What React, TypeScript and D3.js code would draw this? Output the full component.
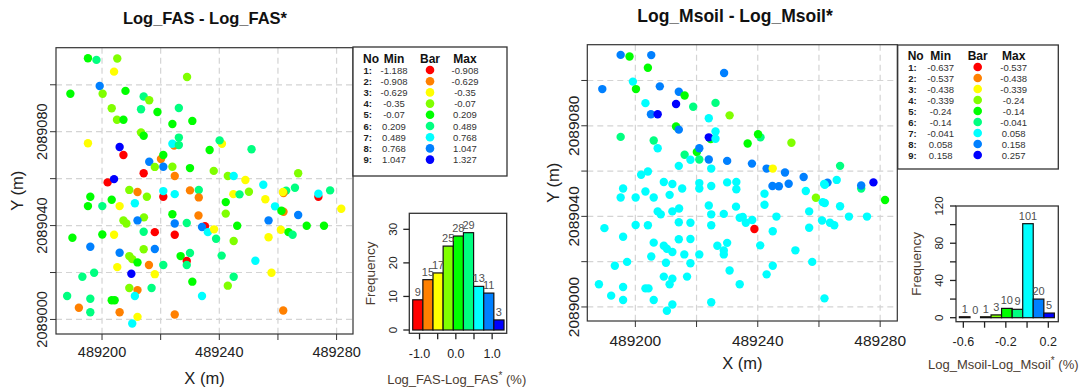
import React from "react";
import * as d3 from "d3";

const CLASS_COLORS = ["#FF0000", "#FF8000", "#FFFF00", "#80FF00", "#00FF00", "#00FF80", "#00FFFF", "#0080FF", "#0000FF"];

const pointX = [
  489195.2, 489198.1, 489205.2, 489204.1, 489229.0, 489199.2, 489200.2, 489189.2, 489208.0, 489214.2,
  489216.1, 489203.3, 489213.3, 489218.9, 489226.2, 489205.1, 489207.3, 489230.8, 489224.0, 489213.3,
  489214.2, 489195.2, 489224.6, 489224.0, 489226.2, 489226.2, 489240.9, 489240.1, 489251.0, 489206.0,
  489207.3, 489236.7, 489220.1, 489220.9, 489216.1, 489218.0, 489220.9, 489224.0, 489230.0, 489238.1,
  489214.2, 489224.8, 489201.9, 489204.1, 489242.9, 489244.9, 489248.9, 489266.9, 489255.0, 489265.8,
  489262.8, 489261.9, 489261.7, 489273.8, 489273.8, 489277.8, 489196.0, 489195.2, 489200.1, 489203.3,
  489206.0, 489209.3, 489212.1, 489215.3, 489211.2, 489220.9, 489220.9, 489224.8, 489230.0, 489233.0,
  489233.0, 489244.8, 489246.9, 489250.1, 489242.2, 489255.7, 489259.0, 489261.9, 489261.2, 489281.6,
  489242.2, 489224.0, 489232.9, 489214.3, 489212.1, 489207.3, 489208.3, 489224.8, 489228.9, 489235.1,
  489234.1, 489236.1, 489238.2, 489246.1, 489256.8, 489266.9, 489269.8, 489275.7, 489261.0, 489263.6,
  489265.0, 489189.9, 489200.1, 489204.1, 489214.2, 489218.0, 489224.8, 489238.9, 489244.9, 489256.8,
  489196.0, 489206.0, 489214.2, 489218.0, 489209.3, 489210.3, 489212.1, 489205.2, 489216.0, 489220.9,
  489226.8, 489230.0, 489228.9, 489228.9, 489240.8, 489252.3, 489210.0, 489218.0, 489193.3, 489197.3,
  489244.9, 489257.8, 489230.8, 489209.3, 489212.1, 489216.9, 489242.9, 489188.1, 489196.0, 489203.3,
  489204.3, 489211.2, 489234.1, 489192.1, 489196.0, 489206.0, 489212.1, 489210.3, 489224.8, 489261.8,
];

const pointY = [
  2089111.3, 2089110.6, 2089111.2, 2089105.6, 2089103.3, 2089099.5, 2089096.2, 2089096.2, 2089097.4, 2089095.0,
  2089093.4, 2089090.0, 2089089.6, 2089088.4, 2089090.1, 2089085.1, 2089085.1, 2089084.6, 2089083.3, 2089079.7,
  2089078.3, 2089075.1, 2089074.1, 2089074.9, 2089074.3, 2089077.5, 2089074.9, 2089076.3, 2089072.5, 2089073.5,
  2089070.1, 2089072.2, 2089068.4, 2089070.1, 2089067.2, 2089065.0, 2089065.1, 2089065.1, 2089064.5, 2089063.3,
  2089062.3, 2089061.1, 2089058.4, 2089059.8, 2089061.1, 2089061.1, 2089059.4, 2089062.3, 2089057.4, 2089056.1,
  2089054.9, 2089053.9, 2089054.3, 2089052.3, 2089053.6, 2089055.0, 2089052.3, 2089048.3, 2089048.3, 2089051.0,
  2089048.3, 2089055.2, 2089054.3, 2089052.3, 2089049.5, 2089052.3, 2089054.7, 2089053.4, 2089055.0, 2089055.2,
  2089052.0, 2089053.4, 2089053.3, 2089054.4, 2089050.0, 2089051.2, 2089048.2, 2089045.9, 2089046.3, 2089047.2,
  2089045.1, 2089044.8, 2089044.3, 2089043.5, 2089042.2, 2089042.2, 2089040.9, 2089040.9, 2089041.1, 2089039.7,
  2089039.4, 2089037.2, 2089038.4, 2089039.9, 2089042.2, 2089044.5, 2089039.9, 2089039.9, 2089038.2, 2089037.2,
  2089036.1, 2089034.8, 2089036.2, 2089036.1, 2089037.4, 2089037.2, 2089036.1, 2089034.4, 2089033.4, 2089035.0,
  2089031.0, 2089028.4, 2089029.9, 2089030.0, 2089027.0, 2089025.7, 2089024.3, 2089022.3, 2089023.2, 2089023.2,
  2089027.0, 2089028.3, 2089024.9, 2089023.2, 2089027.2, 2089025.0, 2089019.5, 2089019.3, 2089018.2, 2089019.9,
  2089018.2, 2089019.9, 2089016.1, 2089013.4, 2089012.5, 2089013.4, 2089014.4, 2089010.0, 2089008.8, 2089008.2,
  2089008.2, 2089010.0, 2089010.0, 2089005.0, 2089003.1, 2089003.1, 2089001.1, 2088998.3, 2089002.1, 2089003.8,
];

// class (1..9) of each point for Log_FAS - Log_FAS*
const fasClass = [
  5, 6, 4, 3, 4, 8, 4, 5, 5, 6,
  4, 4, 6, 5, 6, 4, 5, 5, 5, 4,
  5, 3, 2, 7, 6, 6, 3, 6, 6, 9,
  1, 5, 2, 5, 8, 4, 8, 4, 5, 4,
  1, 2, 1, 9, 4, 7, 3, 4, 7, 6,
  6, 2, 3, 1, 7, 6, 5, 5, 6, 5,
  3, 4, 2, 4, 7, 1, 7, 7, 2, 6,
  2, 3, 6, 4, 5, 3, 7, 2, 5, 3,
  4, 5, 2, 4, 8, 4, 4, 8, 6, 1,
  8, 7, 3, 5, 8, 8, 5, 5, 3, 5,
  6, 5, 5, 3, 6, 1, 1, 6, 4, 3,
  8, 8, 4, 8, 4, 4, 5, 3, 2, 6,
  5, 6, 1, 6, 6, 7, 9, 3, 6, 6,
  6, 3, 5, 4, 2, 6, 4, 6, 6, 5,
  5, 7, 7, 2, 6, 2, 3, 7, 2, 2,
];

// class (1..9) of each point for Log_Msoil - Log_Msoil*
const msoilClass = [
  8, 5, 8, 5, 8, 7, 5, 8, 8, 8,
  5, 7, 9, 6, 6, 8, 9, 4, 7, 5,
  8, 6, 5, 9, 7, 7, 6, 5, 4, 6,
  7, 5, 5, 8, 6, 7, 6, 8, 8, 8,
  7, 7, 7, 7, 8, 3, 8, 6, 8, 7,
  8, 7, 7, 6, 8, 9, 7, 7, 7, 7,
  7, 7, 7, 7, 7, 7, 7, 7, 7, 7,
  7, 8, 8, 8, 7, 7, 4, 7, 7, 5,
  7, 7, 7, 7, 7, 7, 7, 7, 7, 7,
  7, 7, 7, 7, 7, 7, 7, 7, 7, 7,
  7, 7, 7, 7, 7, 7, 7, 1, 7, 7,
  7, 7, 7, 7, 7, 7, 7, 7, 7, 7,
  7, 7, 7, 7, 7, 7, 7, 7, 7, 7,
  7, 7, 7, 7, 7, 7, 7, 7, 7, 7,
  7, 7, 7, 7, 7, 7, 7, 7, 7, 7,
];

const fasBreaks = [-1.188, -0.908, -0.629, -0.35, -0.07, 0.209, 0.489, 0.768, 1.047, 1.327];
const fasCounts = [9, 15, 17, 25, 28, 29, 13, 11, 3];
const msoilBreaks = [-0.637, -0.537, -0.438, -0.339, -0.24, -0.14, -0.041, 0.058, 0.158, 0.257];
const msoilCounts = [1, 0, 1, 3, 10, 9, 101, 20, 5];

const mapXTicks = [489200, 489220, 489240, 489260, 489280];
const mapXLabels = [489200, 489240, 489280];
const mapYTicks = [2089000, 2089020, 2089040, 2089060, 2089080, 2089100];
const mapYLabels = [2089000, 2089040, 2089080];

const fasHistXTicks = [-1.0, -0.5, 0.0, 0.5, 1.0];
const fasHistXLabels = ["-1.0", "", "0.0", "", "1.0"];
const fasHistYTicks = [0, 10, 20, 30];
const msoilHistXTicks = [-0.6, -0.4, -0.2, 0.0, 0.2];
const msoilHistXLabels = ["-0.6", "", "-0.2", "", "0.2"];
const msoilHistYTicks = [0, 20, 40, 60, 80, 100, 120];
const msoilHistYLabels = [0, 40, 80, 120];

const FONT = "'Liberation Sans', Arial, Helvetica, sans-serif";
const MAP_X_DOMAIN: [number, number] = [489184.3, 489285.6];
const MAP_Y_DOMAIN: [number, number] = [2088993.8, 2089115.8];
const LABEL_BROWN = "#4a3b30";

type MapCfg = {
  x0: number; x1: number; y0: number; y1: number;
  xTickLabelY: number; xTitleY: number; yTickLabelX: number; yTitleX: number;
  tickFont: number; cls: number[];
};

function MapPanel(p: MapCfg) {
  const x = d3.scaleLinear().domain(MAP_X_DOMAIN).range([p.x0, p.x1]);
  const y = d3.scaleLinear().domain(MAP_Y_DOMAIN).range([p.y1, p.y0]);
  const cx = (p.x0 + p.x1) / 2;
  const cy = (p.y0 + p.y1) / 2;
  return (
    <g>
      {mapXTicks.map((t) => (
        <line key={"gx" + t} x1={x(t)} x2={x(t)} y1={p.y0} y2={p.y1} stroke="#d4d4d4" strokeWidth={1.2} strokeDasharray="6,4" />
      ))}
      {mapYTicks.map((t) => (
        <line key={"gy" + t} x1={p.x0} x2={p.x1} y1={y(t)} y2={y(t)} stroke="#d4d4d4" strokeWidth={1.2} strokeDasharray="6,4" />
      ))}
      {pointX.map((v, i) => (
        <circle key={"p" + i} cx={x(v)} cy={y(pointY[i])} r={4.2} fill={CLASS_COLORS[p.cls[i] - 1]} />
      ))}
      <rect x={p.x0} y={p.y0} width={p.x1 - p.x0} height={p.y1 - p.y0} fill="none" stroke="#333" strokeWidth={1.2} />
      {mapXTicks.map((t) => (
        <line key={"tx" + t} x1={x(t)} x2={x(t)} y1={p.y1} y2={p.y1 + 6} stroke="#333" strokeWidth={1} />
      ))}
      {mapYTicks.map((t) => (
        <line key={"ty" + t} x1={p.x0 - 6} x2={p.x0} y1={y(t)} y2={y(t)} stroke="#333" strokeWidth={1} />
      ))}
      {mapXLabels.map((t) => (
        <text key={"lx" + t} x={x(t)} y={p.xTickLabelY} textAnchor="middle" dominantBaseline="central" fontSize={p.tickFont} fill="#222">{t}</text>
      ))}
      {mapYLabels.map((t) => (
        <text key={"ly" + t} transform={`translate(${p.yTickLabelX},${y(t)}) rotate(-90)`} textAnchor="middle" dominantBaseline="central" fontSize={p.tickFont} fill="#222">{t}</text>
      ))}
      <text x={cx} y={p.xTitleY} textAnchor="middle" dominantBaseline="central" fontSize={16.5} fill="#222">X (m)</text>
      <text transform={`translate(${p.yTitleX},${cy}) rotate(-90)`} textAnchor="middle" dominantBaseline="central" fontSize={16.5} fill="#222">Y (m)</text>
    </g>
  );
}

type LegendCfg = {
  x: number; y: number; w: number; h: number;
  cNo: number; cMin: number; cBar: number; cMax: number;
  headY: number; row0: number; step: number; breaks: number[];
};

function Legend(l: LegendCfg) {
  const rows = d3.range(9);
  return (
    <g>
      <rect x={l.x} y={l.y} width={l.w} height={l.h} fill="#fff" stroke="#333" strokeWidth={1.3} />
      <text x={l.x + l.cNo} y={l.y + l.headY} dominantBaseline="central" fontSize={12} fontWeight="bold" fill="#111">No</text>
      <text x={l.x + l.cMin} y={l.y + l.headY} textAnchor="middle" dominantBaseline="central" fontSize={12} fontWeight="bold" fill="#111">Min</text>
      <text x={l.x + l.cBar} y={l.y + l.headY} textAnchor="middle" dominantBaseline="central" fontSize={12} fontWeight="bold" fill="#111">Bar</text>
      <text x={l.x + l.cMax} y={l.y + l.headY} textAnchor="middle" dominantBaseline="central" fontSize={12} fontWeight="bold" fill="#111">Max</text>
      {rows.map((i) => {
        const yy = l.y + l.row0 + i * l.step;
        return (
          <g key={"lr" + i}>
            <text x={l.x + l.cNo + 0.5} y={yy} dominantBaseline="central" fontSize={9.5} fontWeight="bold" fill="#222">{i + 1 + ":"}</text>
            <text x={l.x + l.cMin} y={yy} textAnchor="middle" dominantBaseline="central" fontSize={9.5} fill="#333">{String(l.breaks[i])}</text>
            <circle cx={l.x + l.cBar} cy={yy} r={4.3} fill={CLASS_COLORS[i]} />
            <text x={l.x + l.cMax} y={yy} textAnchor="middle" dominantBaseline="central" fontSize={9.5} fill="#333">{String(l.breaks[i + 1])}</text>
          </g>
        );
      })}
    </g>
  );
}

type HistCfg = {
  x0: number; x1: number; y0: number; y1: number;
  xDomain: [number, number]; yDomain: [number, number];
  breaks: number[]; counts: number[];
  xTicks: number[]; xLabels: string[]; yTicks: number[]; yLabels: number[];
  yLabelX: number; xLabelY: number; freqX: number;
  xTitleX: number; xTitleY: number; name: string;
};

function Histogram(h: HistCfg) {
  const x = d3.scaleLinear().domain(h.xDomain).range([h.x0, h.x1]);
  const y = d3.scaleLinear().domain(h.yDomain).range([h.y1, h.y0]);
  const cy = (h.y0 + h.y1) / 2;
  return (
    <g>
      {h.counts.map((c, i) => (
        <rect key={"b" + i} x={x(h.breaks[i])} y={y(c)} width={x(h.breaks[i + 1]) - x(h.breaks[i])} height={y(0) - y(c)}
          fill={CLASS_COLORS[i]} stroke="#111" strokeWidth={1.2} />
      ))}
      {h.counts.map((c, i) => (
        <text key={"bl" + i} x={(x(h.breaks[i]) + x(h.breaks[i + 1])) / 2} y={y(c) - 4} textAnchor="middle" fontSize={11} fill="#505050">{c}</text>
      ))}
      <rect x={h.x0} y={h.y0} width={h.x1 - h.x0} height={h.y1 - h.y0} fill="none" stroke="#333" strokeWidth={1.3} />
      {h.xTicks.map((t, i) => (
        <g key={"hx" + i}>
          <line x1={x(t)} x2={x(t)} y1={h.y1} y2={h.y1 + 6} stroke="#222" strokeWidth={1.3} />
          {h.xLabels[i] ? (
            <text x={x(t)} y={h.xLabelY} textAnchor="middle" dominantBaseline="central" fontSize={12.5} fill="#222">{h.xLabels[i]}</text>
          ) : null}
        </g>
      ))}
      {h.yTicks.map((t) => (
        <line key={"hy" + t} x1={h.x0 - 6} x2={h.x0} y1={y(t)} y2={y(t)} stroke="#222" strokeWidth={1.3} />
      ))}
      {h.yLabels.map((t) => (
        <text key={"hyl" + t} transform={`translate(${h.yLabelX},${y(t)}) rotate(-90)`} textAnchor="middle" dominantBaseline="central" fontSize={11.5} fill="#222">{t}</text>
      ))}
      <text transform={`translate(${h.freqX},${cy}) rotate(-90)`} textAnchor="middle" dominantBaseline="central" fontSize={13.5} fill={LABEL_BROWN}>Frequency</text>
      <text x={h.xTitleX} y={h.xTitleY} textAnchor="middle" dominantBaseline="central" fontSize={13} fill={LABEL_BROWN}>
        {h.name}
        <tspan fontSize={10} dy={-4}>*</tspan>
        <tspan dy={4}> (%)</tspan>
      </text>
    </g>
  );
}

export default function App() {
  return (
    <svg width={1085} height={390} viewBox="0 0 1085 390"
      style={{ position: "absolute", left: 0, top: 0, background: "#fff", fontFamily: FONT }}>
      <rect x={0} y={0} width={1085} height={390} fill="#fff" />
      <text x={205} y={18} textAnchor="middle" dominantBaseline="central" fontSize={16.5} fontWeight="bold" fill="#111">Log_FAS - Log_FAS*</text>
      <text x={735} y={16} textAnchor="middle" dominantBaseline="central" fontSize={17.5} fontWeight="bold" fill="#111">Log_Msoil - Log_Msoil*</text>

      <MapPanel x0={56} x1={353} y0={47.7} y1={334} xTickLabelY={352} xTitleY={378} yTickLabelX={42.3} yTitleX={17}
        tickFont={14.5} cls={fasClass} />
      <MapPanel x0={587.3} x1={897.3} y0={44.7} y1={321} xTickLabelY={340} xTitleY={363.3} yTickLabelX={573.3} yTitleX={553}
        tickFont={15.5} cls={msoilClass} />

      <Legend x={353} y={47} w={154} h={129} cNo={10} cMin={41} cBar={77} cMax={112} headY={11.5} row0={23} step={11.2} breaks={fasBreaks} />
      <Legend x={897.7} y={45} w={160.6} h={124} cNo={10} cMin={43} cBar={80} cMax={116} headY={10.5} row0={22} step={11} breaks={msoilBreaks} />

      <Histogram x0={409.3} x1={506.7} y0={213.3} y1={333.3} xDomain={[-1.282, 1.401]} yDomain={[-0.98, 34.77]}
        breaks={fasBreaks} counts={fasCounts} xTicks={fasHistXTicks} xLabels={fasHistXLabels}
        yTicks={fasHistYTicks} yLabels={fasHistYTicks} yLabelX={393.3} xLabelY={354} freqX={370}
        xTitleX={456.7} xTitleY={379.3} name="Log_FAS-Log_FAS" />
      <Histogram x0={956} x1={1058.3} y0={206} y1={321.7} xDomain={[-0.669, 0.294]} yDomain={[-4.3, 120]}
        breaks={msoilBreaks} counts={msoilCounts} xTicks={msoilHistXTicks} xLabels={msoilHistXLabels}
        yTicks={msoilHistYTicks} yLabels={msoilHistYLabels} yLabelX={939.3} xLabelY={342.3} freqX={916}
        xTitleX={1003.3} xTitleY={364.3} name="Log_Msoil-Log_Msoil" />
    </svg>
  );
}
